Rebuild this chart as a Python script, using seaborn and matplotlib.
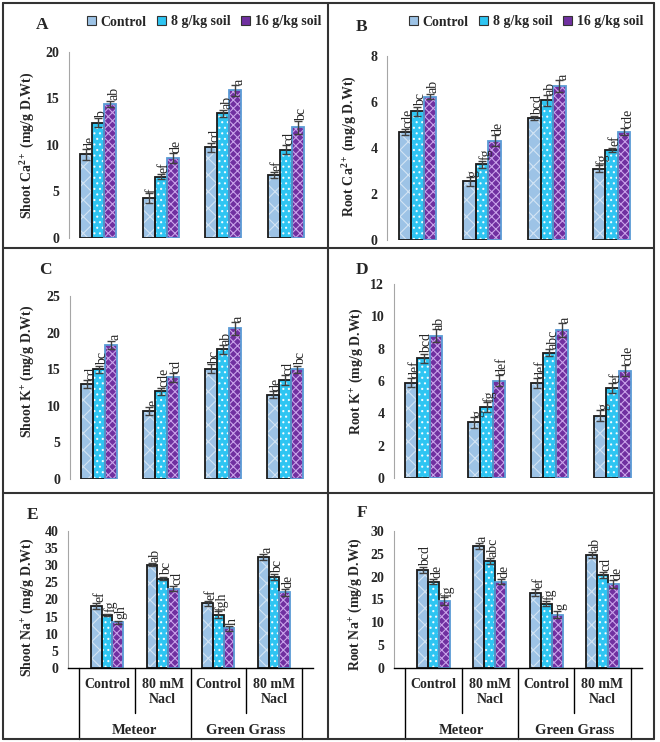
import numpy as np
import pandas as pd
import matplotlib
matplotlib.use("Agg")
import matplotlib.pyplot as plt
import matplotlib.transforms as mtransforms
from matplotlib.lines import Line2D
from matplotlib.patches import Patch
import seaborn as sns

# ---- data (rows = treatment, columns = group) ----
groups = ["Meteor Control", "Meteor 80 mM Nacl", "Green Grass Control", "Green Grass 80 mM Nacl"]
treatments = ["Control", "8 g/kg soil", "16 g/kg soil"]
sub_labels = ["Control", "80 mM\nNacl", "Control", "80 mM\nNacl"]
cultivars = ["Meteor", "Green Grass"]

shoot_ca = [[9.0, 4.3, 9.75, 6.8], [12.4, 6.6, 13.4, 9.5], [14.4, 8.6, 15.9, 11.9]]
shoot_ca_se = [[0.6, 0.5, 0.5, 0.3], [0.5, 0.3, 0.4, 0.5], [0.3, 0.5, 0.6, 0.7]]
shoot_ca_sig = [["de", "f", "cd", "ef"], ["b", "ef", "ab", "cd"], ["ab", "de", "a", "bc"]]

root_ca = [[4.7, 2.55, 5.3, 3.1], [5.6, 3.3, 6.07, 3.92], [6.23, 4.32, 6.7, 4.7]]
root_ca_se = [[0.12, 0.2, 0.1, 0.15], [0.2, 0.15, 0.25, 0.1], [0.12, 0.25, 0.25, 0.15]]
root_ca_sig = [["cde", "g", "bcd", "fg"], ["bc", "fg", "ab", "ef"], ["ab", "de", "a", "cde"]]

shoot_k = [[13.0, 9.3, 15.05, 11.5], [15.0, 12.0, 17.7, 13.55], [18.3, 13.9, 20.6, 15.0]]
shoot_k_se = [[0.5, 0.6, 0.6, 0.5], [0.5, 0.5, 0.6, 0.7], [0.6, 0.6, 0.9, 0.5]]
shoot_k_sig = [["cd", "e", "bc", "de"], ["bc", "cde", "ab", "cd"], ["a", "cd", "a", "bc"]]

root_k = [[5.9, 3.44, 5.86, 3.85], [7.4, 4.38, 7.76, 5.56], [8.79, 6.03, 9.16, 6.63]]
root_k_se = [[0.3, 0.35, 0.3, 0.35], [0.3, 0.3, 0.2, 0.3], [0.4, 0.35, 0.45, 0.35]]
root_k_sig = [["def", "g", "def", "g"], ["bcd", "fg", "abc", "ef"], ["ab", "def", "a", "cde"]]

shoot_na = [[18.1, 30.2, 18.9, 32.4], [15.5, 26.1, 15.5, 26.6], [13.3, 23.2, 11.6, 22.1]]
shoot_na_se = [[1.0, 0.4, 0.7, 1.0], [0.3, 0.5, 1.0, 0.8], [0.5, 0.8, 0.8, 1.0]]
shoot_na_sig = [["ef", "ab", "ef", "a"], ["fg", "bc", "fgh", "bc"], ["gh", "cd", "h", "de"]]

root_na = [[21.5, 26.7, 16.5, 24.7], [18.9, 23.4, 14.1, 20.4], [14.7, 18.9, 11.7, 18.4]]
root_na_se = [[0.7, 0.7, 0.8, 0.6], [0.5, 0.6, 0.6, 0.6], [0.8, 0.6, 0.8, 0.8]]
root_na_sig = [["bcd", "a", "ef", "ab"], ["de", "abc", "fg", "cd"], ["fg", "de", "g", "de"]]

# ---- style ----
sns.set_style("white")
SERIF = ["Liberation Serif", "DejaVu Serif"]
plt.rcParams["font.family"] = SERIF
plt.rcParams["mathtext.fontset"] = "custom"
plt.rcParams["mathtext.rm"] = "Liberation Serif:bold"
plt.rcParams["mathtext.bf"] = "Liberation Serif:bold"
plt.rcParams["mathtext.it"] = "Liberation Serif:italic:bold"
plt.rcParams["hatch.linewidth"] = 0.8

face_colors = ["#9DC3E6", "#2EC5F2", "#7030A0"]
hatch_colors = [(1, 1, 1, 0.55), (1, 1, 1, 0.9), "#C9A3EA"]
hatches = ["xx", "...", "xxxx"]
edge_colors = ["#1a1a1a", "#1a1a1a", "#5B9BD5"]
AXIS_GRAY = "#A6A6A6"

W, H = 660, 742
fig = plt.figure(figsize=(W / 100, H / 100), dpi=100)
fig.patch.set_facecolor("white")


def add_axes_px(left, right, top, bottom):
    return fig.add_axes([left / W, 1 - bottom / H, (right - left) / W, (bottom - top) / H])


def draw_panel(ax, vals, se, sig, ymax, step):
    df = pd.DataFrame({
        "group": [g for t in treatments for g in groups],
        "trt": [t for t in treatments for g in groups],
        "value": [v for row in vals for v in row],
    })
    sns.barplot(data=df, x="group", y="value", hue="trt", order=groups, hue_order=treatments,
                palette=face_colors, saturation=1, width=0.58, errorbar=None, legend=False, ax=ax)
    filled = list(ax.containers)
    for cont, htch, hc in zip(filled, hatches, hatch_colors):
        for bar in cont:
            bar.set_hatch(htch)
            bar.set_edgecolor(hc)
            bar.set_linewidth(0)
    # outlines
    sns.barplot(data=df, x="group", y="value", hue="trt", order=groups, hue_order=treatments,
                palette=edge_colors, saturation=1, width=0.58, errorbar=None, legend=False,
                fill=False, linewidth=1.3, ax=ax)
    for ti, cont in enumerate(filled):
        for gi, bar in enumerate(cont):
            x = bar.get_x() + bar.get_width() / 2
            h = bar.get_height()
            ax.errorbar(x, h, yerr=se[ti][gi], fmt="none", ecolor="#404040",
                        elinewidth=1, capsize=3, capthick=1, zorder=6)
            ax.annotate(sig[ti][gi], (x, h + se[ti][gi] * 0.6), xytext=(2.5, 1.5),
                        textcoords="offset points", rotation=90, ha="center", va="bottom",
                        fontsize=10, family=SERIF, zorder=7)
    ax.set_ylim(0, ymax)
    ax.set_yticks(np.arange(0, ymax + step / 2, step))
    ax.tick_params(axis="y", length=4, color=AXIS_GRAY, width=1, labelsize=10, pad=3)
    for lab in ax.get_yticklabels():
        lab.set_fontweight("bold")
    for s in ["top", "right"]:
        ax.spines[s].set_visible(False)
    ax.spines["left"].set_color(AXIS_GRAY)
    ax.set_xlabel("")
    ax.set_facecolor("none")


def set_ylabel(ax, text, box, x_px, y_px):
    left, right, top, bottom = box
    ax.set_ylabel(text, fontsize=10, fontweight="bold")
    ax.yaxis.set_label_coords((x_px - left) / (right - left), (bottom - y_px) / (bottom - top))


def category_axis(ax, box):
    left, right, top, bottom = box
    hgt = bottom - top

    def ya(px):
        return (bottom - px) / hgt

    ax.set_xticks(range(len(groups)))
    ax.set_xticklabels([])
    ax.tick_params(axis="x", length=4, color="black", width=1, direction="out")
    ax.spines["bottom"].set_color("black")
    ax.spines["bottom"].set_linewidth(1)
    trans = mtransforms.blended_transform_factory(ax.transData, ax.transAxes)
    for x in [-0.5, 1.5, 3.5]:
        ax.plot([x, x], [0, ya(739)], transform=trans, color="black", lw=1, clip_on=False)
    for x in [0.5, 2.5]:
        ax.plot([x, x], [0, ya(713)], transform=trans, color="black", lw=1, clip_on=False)
    for gi, lab in enumerate(sub_labels):
        ax.text(gi, ya(678), lab, transform=trans, ha="center", va="top", fontsize=10,
                fontweight="bold", linespacing=1.2)
    for ci, lab in enumerate(cultivars):
        ax.text(0.5 + 2 * ci, ya(730), lab, transform=trans, ha="center", va="center",
                fontsize=10.5, fontweight="bold")


# ---- layout (pixels: left, right, top, bottom of plot area) ----
panels = [
    ("A", shoot_ca, shoot_ca_se, shoot_ca_sig, 20, 5, r"Shoot Ca$^{\mathbf{2+}}$ (mg/g D.Wt)",
     (69, 315, 52, 238), (37, 145), (42, 25)),
    ("B", root_ca, root_ca_se, root_ca_sig, 8, 2, r"Root Ca$^{\mathbf{2+}}$ (mg/g D.Wt)",
     (387, 642, 56, 240), (359, 146), (362, 27)),
    ("C", shoot_k, shoot_k_se, shoot_k_sig, 25, 5, r"Shoot K$^{\mathbf{+}}$ (mg/g D.Wt)",
     (70, 314, 296, 479), (36, 371), (45, 270)),
    ("D", root_k, root_k_se, root_k_sig, 12, 2, r"Root K$^{\mathbf{+}}$ (mg/g D.Wt)",
     (394, 642, 284, 478), (365, 371), (362, 270)),
    ("E", shoot_na, shoot_na_se, shoot_na_sig, 40, 5, r"Shoot Na$^{\mathbf{+}}$ (mg/g D.Wt)",
     (68, 313, 531, 668), (36, 607), (33, 515)),
    ("F", root_na, root_na_se, root_na_sig, 30, 5, r"Root Na$^{\mathbf{+}}$ (mg/g D.Wt)",
     (394, 642, 531, 668), (364, 604), (362, 513)),
]

for key, vals, se, sig, ymax, step, ylabel, box, lab_xy, key_xy in panels:
    ax = add_axes_px(*box)
    draw_panel(ax, vals, se, sig, ymax, step)
    set_ylabel(ax, ylabel, box, *lab_xy)
    if key in ("E", "F"):
        category_axis(ax, box)
    else:
        ax.spines["bottom"].set_visible(False)
        ax.set_xticks([])
    fig.text(key_xy[0] / W, 1 - key_xy[1] / H, key, ha="center", va="center",
             fontsize=12.5, fontweight="bold")
    if key in ("A", "B"):
        handles = [Patch(facecolor=fc, edgecolor="#333333", linewidth=0.8) for fc in face_colors]
        cx = 204 if key == "A" else 526
        ax.legend(handles, treatments, loc="center", bbox_to_anchor=(cx / W, 1 - 22 / H),
                  bbox_transform=fig.transFigure, ncol=3, frameon=False, handlelength=0.65,
                  handleheight=0.65, handletextpad=0.3, columnspacing=0.8, borderpad=0,
                  borderaxespad=0, prop=dict(family=SERIF, weight="bold", size=10))

# panel frames
frame_kw = dict(color="#333333", lw=1.5, transform=fig.transFigure)
for (x0, y0, x1, y1) in [(3, 3, 654, 3), (3, 739, 654, 739), (3, 3, 3, 739), (654, 3, 654, 739),
                         (328, 3, 328, 739), (3, 248, 654, 248), (3, 493, 654, 493)]:
    fig.add_artist(Line2D([x0 / W, x1 / W], [1 - y0 / H, 1 - y1 / H], **frame_kw))

fig.savefig("out.png", dpi=100, facecolor="white")
